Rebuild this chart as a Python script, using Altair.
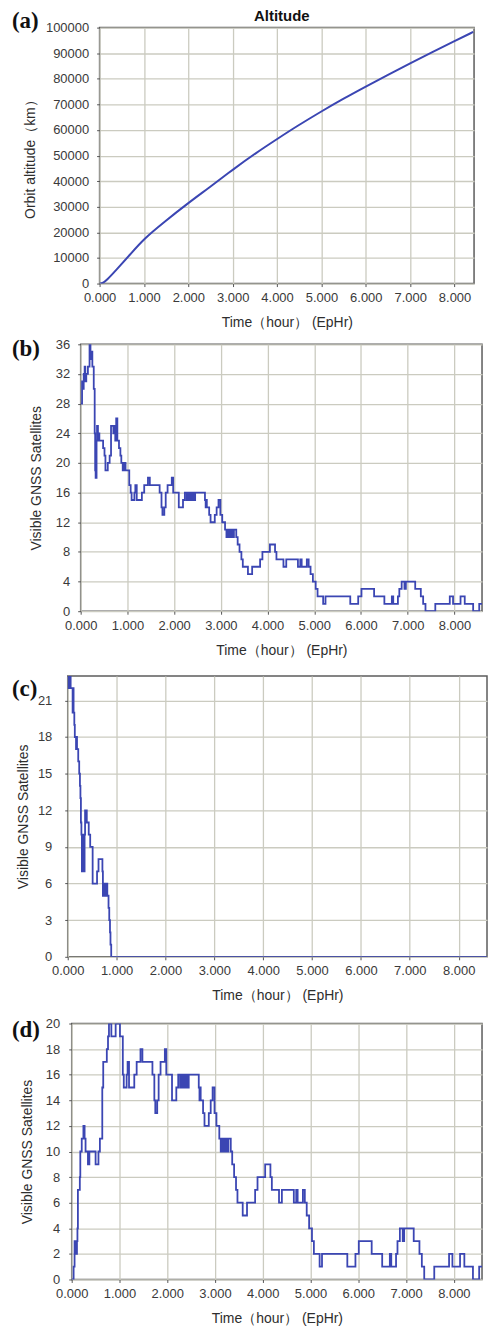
import altair as alt
import pandas as pd

# ---------------- data ----------------
# (a) orbit altitude (km) vs time (hour)
alt_time = [0, 0.06, 0.16, 0.39, 0.69, 1.00, 1.43, 2.00, 2.48, 3.00, 3.52, 4.03, 4.43,
            5.00, 5.50, 6.00, 6.50, 7.00, 7.50, 8.00, 8.42]
alt_km = [0, 0, 1300, 5600, 11400, 17500, 23700, 31500, 37600, 44500, 51000, 56800, 61300,
          67300, 72300, 77000, 81600, 86000, 90400, 94700, 98300]

# common tail of (b) and (d): (hour, visible satellites) change points
tail_steps = [(1.07, 16), (1.09, 15), (1.15, 16), (1.17, 17), (1.20, 15), (1.31, 16), (1.36, 17),
              (1.44, 18), (1.48, 17), (1.69, 16), (1.73, 14), (1.75, 13), (1.79, 14), (1.82, 16),
              (1.86, 17), (1.95, 18), (1.98, 16), (2.10, 14), (2.19, 15), (2.23, 16), (2.27, 15),
              (2.29, 16), (2.32, 15), (2.35, 16), (2.38, 15), (2.41, 16), (2.43, 15), (2.45, 16),
              (2.66, 15), (2.675, 14), (2.685, 15), (2.70, 14), (2.75, 13), (2.78, 12), (2.87, 13),
              (2.91, 14), (2.95, 15), (2.99, 13), (3.03, 12), (3.09, 11), (3.12, 10), (3.14, 11),
              (3.16, 10), (3.19, 11), (3.21, 10), (3.24, 11), (3.26, 10), (3.28, 11), (3.33, 10),
              (3.36, 9), (3.40, 8), (3.44, 7), (3.47, 6), (3.58, 5), (3.67, 6), (3.84, 7), (3.89, 8),
              (4.05, 9), (4.16, 8), (4.19, 7), (4.34, 6), (4.40, 7), (4.65, 6), (4.70, 7), (4.73, 6),
              (4.84, 7), (4.88, 6), (4.92, 5), (4.97, 4), (5.03, 3), (5.07, 2), (5.19, 1), (5.24, 2),
              (5.77, 1), (5.94, 2), (6.01, 3), (6.28, 2), (6.50, 1), (6.66, 2), (6.69, 1), (6.79, 2),
              (6.82, 3), (6.87, 4), (6.93, 3), (6.96, 4), (7.16, 3), (7.28, 2), (7.33, 1), (7.38, 0),
              (7.59, 1), (7.90, 2), (7.97, 1), (8.13, 2), (8.22, 1), (8.40, 0), (8.53, 1), (8.59, 1)]

# (b) first hour
b_head = [(0, 28), (0.03, 31), (0.05, 30), (0.065, 32), (0.085, 33), (0.10, 31), (0.12, 32),
          (0.155, 33), (0.19, 36), (0.21, 34), (0.225, 35), (0.25, 33), (0.28, 30), (0.30, 24),
          (0.31, 19), (0.32, 18), (0.34, 23), (0.35, 25), (0.37, 23), (0.38, 24), (0.40, 23),
          (0.48, 22), (0.51, 21), (0.53, 19), (0.58, 20), (0.62, 21), (0.65, 25), (0.70, 24),
          (0.72, 25), (0.74, 23), (0.76, 26), (0.785, 23), (0.82, 22), (0.85, 21), (0.87, 20),
          (0.90, 19), (0.93, 20), (0.96, 19), (1.04, 17)]

# (c)
c_steps = [(0, 23), (0.012, 22), (0.024, 23), (0.036, 22), (0.048, 23), (0.06, 22), (0.10, 20),
           (0.11, 22), (0.12, 20), (0.135, 19), (0.145, 18), (0.17, 17), (0.18, 18), (0.19, 17),
           (0.215, 16), (0.235, 15), (0.25, 14), (0.26, 13), (0.27, 11), (0.28, 10), (0.29, 7),
           (0.30, 10), (0.31, 7), (0.32, 10), (0.33, 7), (0.345, 10), (0.355, 12), (0.365, 11),
           (0.375, 12), (0.39, 11), (0.43, 10), (0.46, 9), (0.51, 6), (0.60, 7), (0.63, 8),
           (0.71, 7), (0.72, 5), (0.735, 6), (0.75, 5), (0.765, 6), (0.78, 5), (0.79, 6), (0.81, 5),
           (0.835, 4), (0.85, 3), (0.865, 2), (0.875, 1), (0.89, 0), (8.58, 0)]

# (d) first hour
d_head = [(0, 0), (0.04, 1), (0.06, 3), (0.07, 2), (0.08, 3), (0.09, 2), (0.11, 3), (0.12, 4),
          (0.13, 7), (0.17, 8), (0.18, 10), (0.21, 11), (0.245, 12), (0.27, 11), (0.29, 10),
          (0.34, 9), (0.37, 10), (0.50, 9), (0.56, 10), (0.59, 11), (0.64, 15), (0.66, 17),
          (0.735, 18), (0.76, 19), (0.78, 20), (0.83, 19), (0.92, 20), (1.01, 19)]

x_ticks = [0, 1, 2, 3, 4, 5, 6, 7, 8]
panel_letters = ["(a)", "(b)", "(c)", "(d)"]
x_title = "Time（hour） (EpHr)"

LINE = "#3b46b3"
FONT = "Liberation Sans"


def steps_df(pairs):
    return pd.DataFrame({"t": [p[0] for p in pairs], "v": [p[1] for p in pairs]})


def panel(df, interp, xmax, ymax, yticks, w, h, L, T, B, ytitle, ytitle_x, ylabpad,
          letter, letter_y, sw=1.8, title=None, title_x=None):
    xaxis = alt.Axis(values=x_ticks, format=".3f", title=x_title, labelFlush=False,
                     labelOverlap=False, labelPadding=5, titleY=39, titleBaseline="middle")
    yaxis = alt.Axis(values=yticks, format="d", title=ytitle, titleX=ytitle_x,
                     titleBaseline="middle", labelPadding=ylabpad, labelFlush=False,
                     labelOverlap=False)
    line = alt.Chart(df).mark_line(interpolate=interp, clip=True, color=LINE,
                                   strokeWidth=sw).encode(
        x=alt.X("t:Q", scale=alt.Scale(domain=[0, xmax], nice=False, zero=False), axis=xaxis),
        y=alt.Y("v:Q", scale=alt.Scale(domain=[0, ymax], nice=False), axis=yaxis),
    )
    lab = alt.Chart(pd.DataFrame({"label": [letter]})).mark_text(
        font="Liberation Serif", fontWeight="bold", fontSize=23, align="left",
        baseline="alphabetic", color="#111111").encode(
        x=alt.value(-(L - 10)), y=alt.value(letter_y), text="label:N")
    # invisible frame that fixes the band each panel occupies
    anchor = alt.Chart(pd.DataFrame({"a": [0]})).mark_rule(opacity=0, strokeWidth=0.1).encode(
        x=alt.value(-L), y=alt.value(-T), y2=alt.value(h + B))
    layers = [line, lab, anchor]
    if title:
        layers.append(alt.Chart(pd.DataFrame({"label": [title]})).mark_text(
            font=FONT, fontWeight="bold", fontSize=15, align="center", baseline="middle",
            color="#111111").encode(x=alt.value(title_x), y=alt.value(-12), text="label:N"))
    body = alt.layer(*layers).properties(width=w, height=h)
    spacer = alt.Chart(pd.DataFrame({"a": [0]})).mark_point(opacity=0).encode(
        x=alt.value(1), y=alt.value(1)
    ).properties(width=L, height=1, view=alt.ViewBackground(strokeOpacity=0, strokeWidth=0))
    return alt.hconcat(spacer, body, spacing=0, bounds="flush")


pa = panel(pd.DataFrame({"t": alt_time, "v": alt_km}), "basis", 8.44, 100000,
           list(range(0, 100001, 10000)), 376, 257, 98, 24, 53,
           "Orbit altitude（km）", -69, 8, panel_letters[0], 0, sw=2,
           title="Altitude", title_x=183)
pb = panel(steps_df(b_head + tail_steps), "step-after", 8.59, 36, list(range(0, 37, 4)),
           403, 268, 79, 6, 51, "Visible GNSS Satellites", -44, 8, panel_letters[1], 12)
pc = panel(steps_df(c_steps), "step-after", 8.58, 23, list(range(0, 22, 3)),
           421, 282, 66, 12, 51, "Visible GNSS Satellites", -44, 13, panel_letters[2], 20)
pd_ = panel(steps_df(d_head + tail_steps), "step-after", 8.59, 20, list(range(0, 21, 2)),
            412, 257, 70, 14, 44, "Visible GNSS Satellites", -44, 9, panel_letters[3], 14)

chart = alt.vconcat(pa, pb, pc, pd_, spacing=0).properties(
    padding=0
).configure_view(
    stroke="#5c5c5c", strokeWidth=1.5
).configure_axis(
    gridColor="#cbcbc0", gridWidth=1.3, tickColor="#555555", tickSize=3, domain=False,
    labelFont=FONT, labelFontSize=13, labelColor="#3a3a3a",
    titleFont=FONT, titleFontSize=14, titleFontWeight="normal", titleColor="#2e2e2e",
)

chart.save("out.html", embed_options={"renderer": "svg", "actions": False})
